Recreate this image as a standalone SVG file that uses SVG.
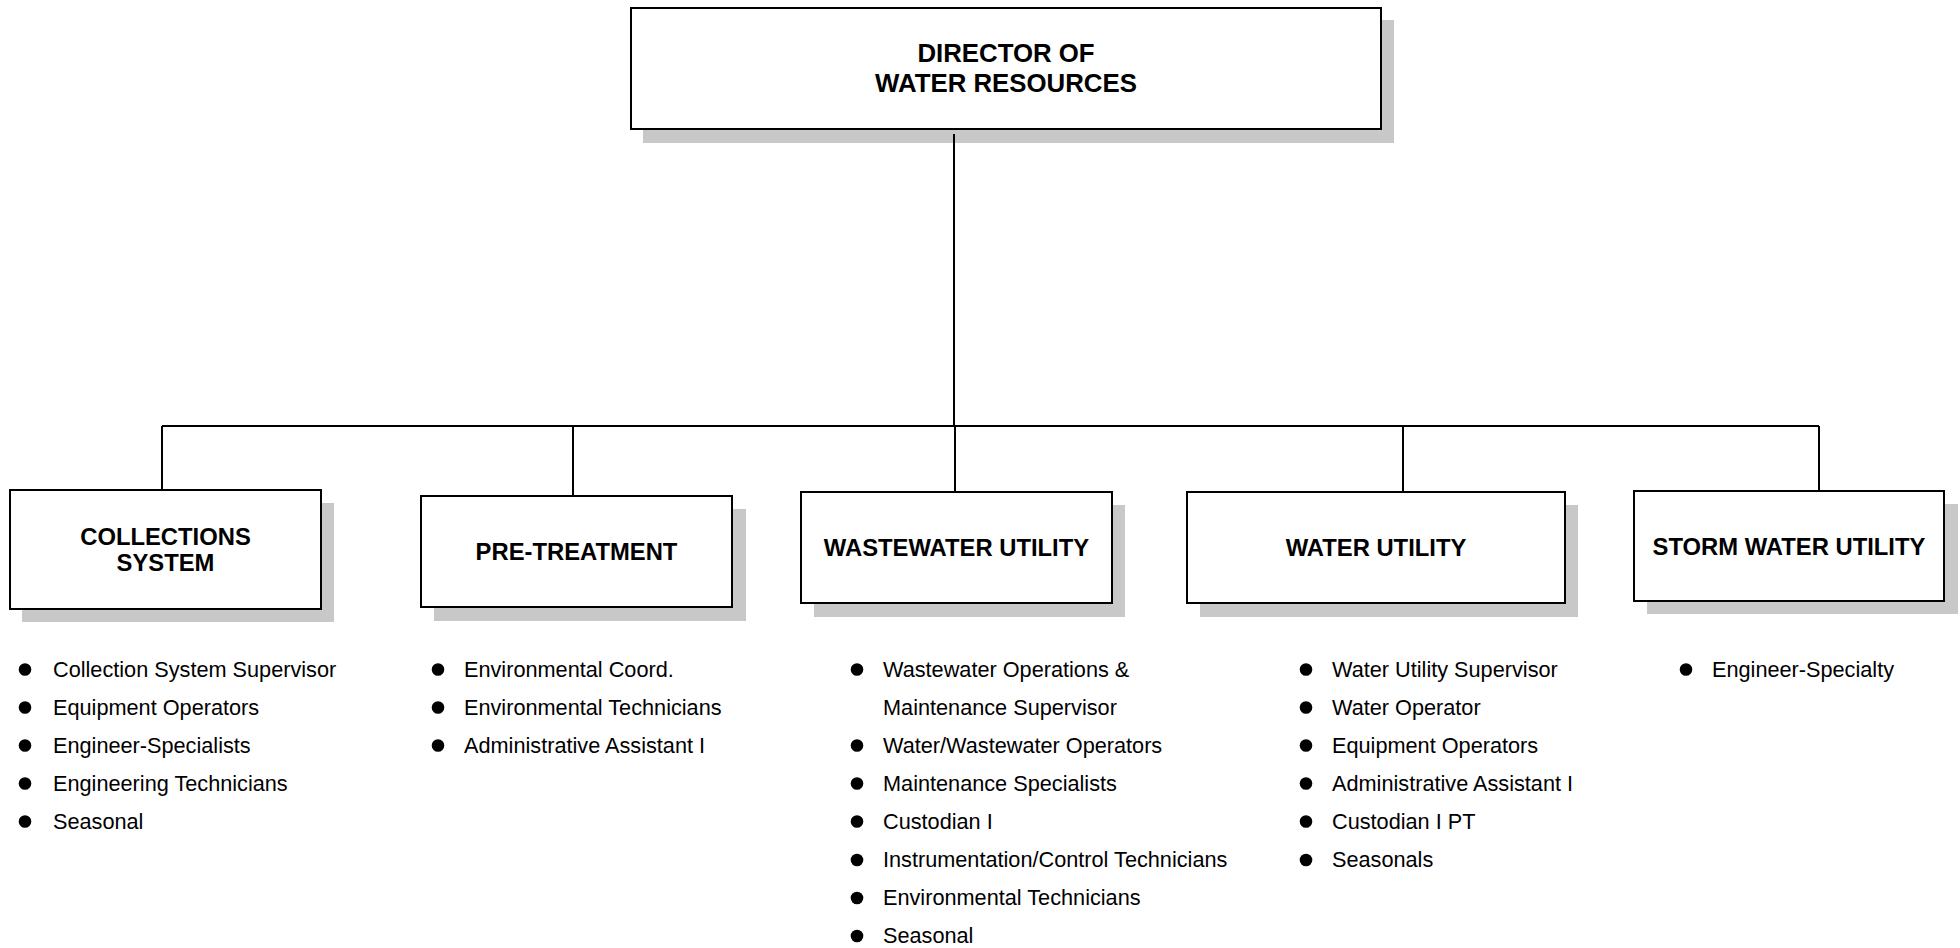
<svg xmlns="http://www.w3.org/2000/svg" width="1960" height="948" viewBox="0 0 1960 948">
<style>
.shadow{fill:#c8c8c8;stroke:none}
.box{fill:#ffffff;stroke:#000000;stroke-width:2}
.title{font-family:"Liberation Sans",Arial,sans-serif;font-weight:bold;font-size:23.8px;fill:#000;text-anchor:middle}
.big{font-size:25.8px}
.item{font-family:"Liberation Sans",Arial,sans-serif;font-size:21.7px;fill:#000}
.bullet{fill:#000}
.conn{stroke:#000;stroke-width:2;fill:none}
</style>
<rect width="1960" height="948" fill="#ffffff"/>
<g id="director">
<rect class="shadow" x="643" y="20" width="751" height="123"/>
<rect class="box" x="631" y="8" width="750" height="121"/>
<text class="title big" x="1006" y="62">DIRECTOR OF</text>
<text class="title big" x="1006" y="91.5">WATER RESOURCES</text>
</g>
<g id="collections">
<rect class="shadow" x="22" y="503" width="312" height="119"/>
<rect class="box" x="10" y="490" width="311" height="119"/>
<text class="title" x="165.5" y="545">COLLECTIONS</text>
<text class="title" x="165.5" y="571">SYSTEM</text>
<g class="item">
<circle class="bullet" cx="25" cy="669.5" r="6.3"/><text x="53" y="676.5">Collection System Supervisor</text>
<circle class="bullet" cx="25" cy="707.5" r="6.3"/><text x="53" y="714.5">Equipment Operators</text>
<circle class="bullet" cx="25" cy="745.5" r="6.3"/><text x="53" y="752.5">Engineer-Specialists</text>
<circle class="bullet" cx="25" cy="783.5" r="6.3"/><text x="53" y="790.5">Engineering Technicians</text>
<circle class="bullet" cx="25" cy="821.5" r="6.3"/><text x="53" y="828.5">Seasonal</text>
</g>
</g>
<g id="pretreatment">
<rect class="shadow" x="434" y="509" width="312" height="112"/>
<rect class="box" x="421" y="496" width="311" height="111"/>
<text class="title" x="576.5" y="559.5">PRE-TREATMENT</text>
<g class="item">
<circle class="bullet" cx="438" cy="669.5" r="6.3"/><text x="464" y="676.5">Environmental Coord.</text>
<circle class="bullet" cx="438" cy="707.5" r="6.3"/><text x="464" y="714.5">Environmental Technicians</text>
<circle class="bullet" cx="438" cy="745.5" r="6.3"/><text x="464" y="752.5">Administrative Assistant I</text>
</g>
</g>
<g id="wastewater">
<rect class="shadow" x="814" y="505" width="311" height="112"/>
<rect class="box" x="801" y="492" width="311" height="111"/>
<text class="title" x="956.5" y="555.5">WASTEWATER UTILITY</text>
<g class="item">
<circle class="bullet" cx="857" cy="669.5" r="6.3"/><text x="883" y="676.5">Wastewater Operations &amp;</text>
<text x="883" y="714.5">Maintenance Supervisor</text>
<circle class="bullet" cx="857" cy="745.5" r="6.3"/><text x="883" y="752.5">Water/Wastewater Operators</text>
<circle class="bullet" cx="857" cy="783.5" r="6.3"/><text x="883" y="790.5">Maintenance Specialists</text>
<circle class="bullet" cx="857" cy="821.5" r="6.3"/><text x="883" y="828.5">Custodian I</text>
<circle class="bullet" cx="857" cy="860" r="6.3"/><text x="883" y="867">Instrumentation/Control Technicians</text>
<circle class="bullet" cx="857" cy="898" r="6.3"/><text x="883" y="905">Environmental Technicians</text>
<circle class="bullet" cx="857" cy="936" r="6.3"/><text x="883" y="943">Seasonal</text>
</g>
</g>
<g id="water">
<rect class="shadow" x="1200" y="505" width="378" height="112"/>
<rect class="box" x="1187" y="492" width="378" height="111"/>
<text class="title" x="1376" y="555.5">WATER UTILITY</text>
<g class="item">
<circle class="bullet" cx="1306" cy="669.5" r="6.3"/><text x="1332" y="676.5">Water Utility Supervisor</text>
<circle class="bullet" cx="1306" cy="707.5" r="6.3"/><text x="1332" y="714.5">Water Operator</text>
<circle class="bullet" cx="1306" cy="745.5" r="6.3"/><text x="1332" y="752.5">Equipment Operators</text>
<circle class="bullet" cx="1306" cy="783.5" r="6.3"/><text x="1332" y="790.5">Administrative Assistant I</text>
<circle class="bullet" cx="1306" cy="821.5" r="6.3"/><text x="1332" y="828.5">Custodian I PT</text>
<circle class="bullet" cx="1306" cy="860" r="6.3"/><text x="1332" y="867">Seasonals</text>
</g>
</g>
<g id="stormwater">
<rect class="shadow" x="1647" y="504" width="311" height="110"/>
<rect class="box" x="1634" y="491" width="310" height="110"/>
<text class="title" x="1789" y="554.5">STORM WATER UTILITY</text>
<g class="item">
<circle class="bullet" cx="1686" cy="669.5" r="6.3"/><text x="1712" y="676.5">Engineer-Specialty</text>
</g>
</g>
<g id="connectors">
<line class="conn" x1="954" y1="134" x2="954" y2="426"/>
<line class="conn" x1="162" y1="426" x2="1819" y2="426"/>
<line class="conn" x1="162" y1="426" x2="162" y2="490"/>
<line class="conn" x1="573" y1="426" x2="573" y2="496"/>
<line class="conn" x1="955" y1="426" x2="955" y2="492"/>
<line class="conn" x1="1403" y1="426" x2="1403" y2="492"/>
<line class="conn" x1="1819" y1="426" x2="1819" y2="491"/>
</g>
</svg>
